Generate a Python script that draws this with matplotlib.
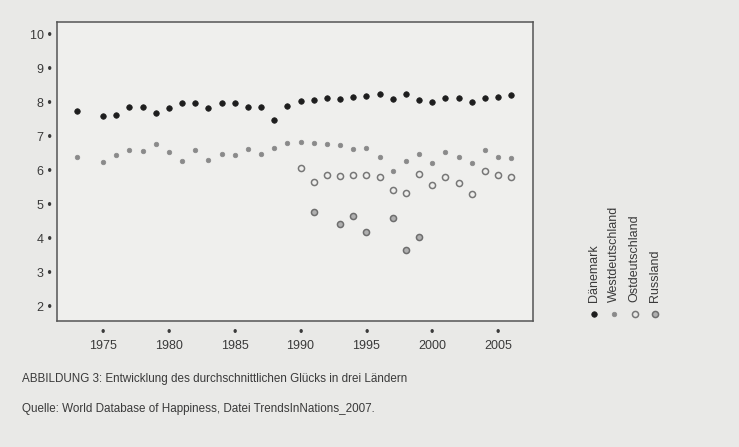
import matplotlib.pyplot as plt
from matplotlib import font_manager
import numpy as np

plt.rcParams['font.family'] = ['Liberation Sans', 'DejaVu Sans']

# Werte
years_dk = [1973] + list(range(1975, 2007))
daenemark = [7.75, 7.60, 7.63, 7.88, 7.88, 7.70, 7.86, 8.00, 8.00, 7.84, 8.00,
             8.00, 7.89, 7.89, 7.50, 7.91, 8.06, 8.08, 8.14, 8.12, 8.18, 8.19,
             8.25, 8.11, 8.25, 8.07, 8.03, 8.13, 8.13, 8.02, 8.13, 8.17, 8.22]
westdeutschland = [6.40, 6.26, 6.47, 6.60, 6.59, 6.78, 6.54, 6.29, 6.62, 6.33, 6.50,
                   6.45, 6.65, 6.50, 6.67, 6.83, 6.86, 6.83, 6.79, 6.75, 6.63, 6.67,
                   6.42, 6.00, 6.28, 6.49, 6.24, 6.54, 6.42, 6.23, 6.62, 6.40, 6.37]
years_ost = list(range(1990, 2007))
ostdeutschland = [6.09, 5.68, 5.88, 5.84, 5.89, 5.87, 5.83, 5.44, 5.36, 5.92, 5.59,
                  5.81, 5.65, 5.32, 5.99, 5.88, 5.81]
years_ru = [1991, 1993, 1994, 1995, 1997, 1998, 1999]
russland = [4.79, 4.44, 4.67, 4.20, 4.60, 3.68, 4.05]

x_ticks = [1975, 1980, 1985, 1990, 1995, 2000, 2005]
y_ticks = [2, 3, 4, 5, 6, 7, 8, 9, 10]
names = ['Dänemark', 'Westdeutschland', 'Ostdeutschland', 'Russland']

paper = '#e9e9e7'
ink = '#3a3a3a'

styles = [
    dict(marker='o', ms=4.0, mfc='#1e1e1e', mec='#1e1e1e', mew=0.5),
    dict(marker='o', ms=3.3, mfc='#8a8a8a', mec='#8a8a8a', mew=0.5),
    dict(marker='o', ms=4.4, mfc='none', mec='#777777', mew=1.1),
    dict(marker='o', ms=4.4, mfc='#b0b0b0', mec='#6e6e6e', mew=1.1),
]

# schmale Schrift fuer die Bildunterschrift, falls vorhanden
installed = {f.name for f in font_manager.fontManager.ttflist}
if 'Liberation Sans Narrow' in installed:
    cap_font, cap_size = ['Liberation Sans Narrow', 'DejaVu Sans'], 10.2
else:
    cap_font, cap_size = ['Liberation Sans', 'DejaVu Sans'], 8.4

fig = plt.figure(figsize=(7.39, 4.47), dpi=100, facecolor=paper)
ax = fig.add_axes([0.0771, 0.2819, 0.644, 0.669], facecolor='#efefed')

series = [(years_dk, daenemark), (years_dk, westdeutschland),
          (years_ost, ostdeutschland), (years_ru, russland)]
for (xs, ys), st in zip(series, styles):
    ax.plot(xs, ys, linestyle='none', **st)

ax.set_xlim(1971.5, 2007.65)
ax.set_ylim(1.58, 10.38)
ax.set_xticks(x_ticks)
ax.set_xticklabels(['\u2022\n' + str(y) for y in x_ticks], linespacing=1.15)
ax.set_yticks(y_ticks)
ax.set_yticklabels([str(y) + ' \u2022' for y in y_ticks])
ax.tick_params(length=0, labelsize=9, labelcolor=ink, pad=4)
for sp in ax.spines.values():
    sp.set_color('#555555')
    sp.set_linewidth(1.1)

# Legende, senkrecht rechts neben dem Diagramm
lax = fig.add_axes([0.79, 0.26, 0.11, 0.5])
lax.set_axis_off()
lax.set_xlim(-0.5, 3.5)
lax.set_ylim(0, 1)
for i, (name, st) in enumerate(zip(names, styles)):
    lax.plot(i, 0.076, linestyle='none', **st)
    lax.text(i, 0.13, name, rotation=90, ha='center', va='bottom',
             fontsize=9, color=ink)

fig.text(0.030, 0.153, 'ABBILDUNG 3: Entwicklung des durchschnittlichen Glücks in drei Ländern',
         fontsize=cap_size, family=cap_font, color=ink, va='center')
fig.text(0.030, 0.084, 'Quelle: World Database of Happiness, Datei TrendsInNations_2007.',
         fontsize=cap_size, family=cap_font, color=ink, va='center')

fig.savefig('out.png', dpi=100, facecolor=paper)
